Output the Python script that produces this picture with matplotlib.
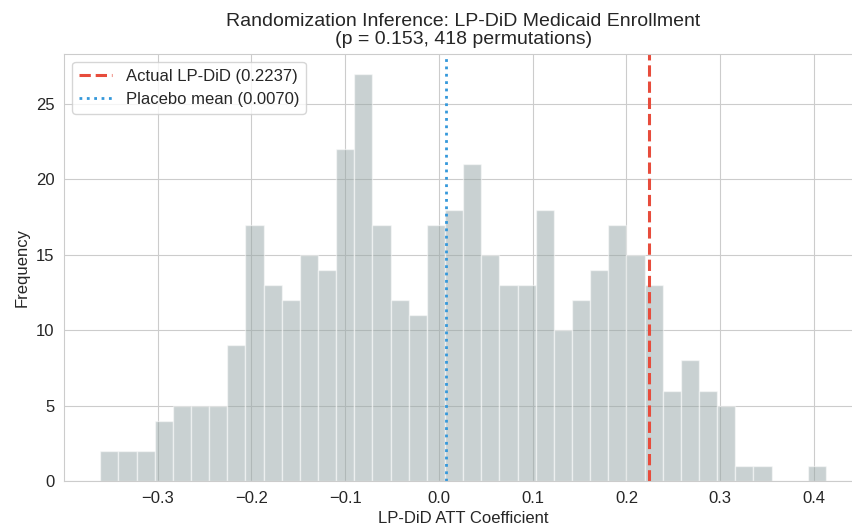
import numpy as np
import matplotlib
matplotlib.use("Agg")
import matplotlib.pyplot as plt
import seaborn as sns

# permutation distribution
counts = [2, 2, 2, 4, 5, 5, 5, 9, 17, 13, 12, 15, 14, 22, 27, 17, 12, 11, 17,
          18, 21, 15, 13, 13, 18, 10, 12, 14, 17, 15, 13, 6, 8, 6, 5, 1, 1, 0, 0, 1]
coef_min = -0.3612
coef_max = 0.4128
actual_att = 0.2237
placebo_mean = 0.0070
p_value = 0.153
n_perm = 418

sns.set_style("whitegrid")
plt.rcParams['font.family'] = ['Liberation Sans', 'DejaVu Sans']

edges = np.linspace(coef_min, coef_max, len(counts) + 1)
centers = (edges[:-1] + edges[1:]) / 2

fig = plt.figure(figsize=(8.52, 5.32), dpi=100)
ax = fig.add_axes([0.0751, 0.0959, 0.937, 0.8035])

ax.hist(centers, bins=edges, weights=counts, color='#95a5a6', alpha=0.5,
        edgecolor='white', linewidth=1)
ax.axvline(actual_att, color='#e74c3c', linestyle='--', linewidth=2.2,
           label=f'Actual LP-DiD ({actual_att:.4f})')
ax.axvline(placebo_mean, color='#3498db', linestyle=':', linewidth=2,
           label=f'Placebo mean ({placebo_mean:.4f})')

ax.set_xlabel('LP-DiD ATT Coefficient', fontsize=12)
ax.set_ylabel('Frequency', fontsize=12)
ax.set_title(f'Randomization Inference: LP-DiD Medicaid Enrollment\n'
             f'(p = {p_value:.3f}, {n_perm} permutations)', fontsize=14,
             linespacing=1.05, pad=7)
ax.tick_params(labelsize=12)
ax.legend(loc='upper left', fontsize=12)

fig.savefig('out.png', dpi=100)
